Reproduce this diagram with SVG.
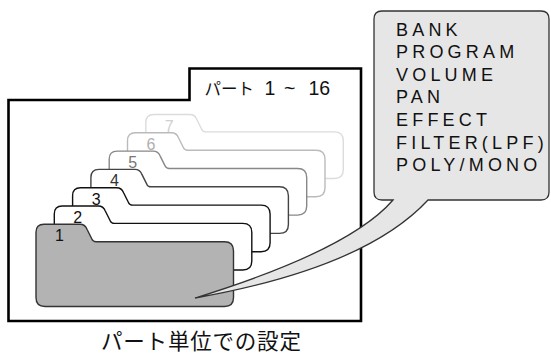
<svg xmlns="http://www.w3.org/2000/svg" xmlns:xlink="http://www.w3.org/1999/xlink" width="551" height="354" viewBox="0 0 551 354">
<style>
.frame{fill:#fff;stroke:#000;stroke-width:2.6}
.fold{fill:#fff;stroke-width:1.4}
.num{font-family:"Liberation Sans",Arial,sans-serif;font-size:16px;text-anchor:middle}
.lbl{font-family:"Liberation Sans","Noto Sans CJK JP",sans-serif;font-size:19.5px;fill:#111}
.jp{font-family:"Noto Sans CJK JP",sans-serif;font-size:16.5px}
.cap{font-family:"Noto Sans CJK JP",sans-serif;font-size:21.5px;fill:#111;letter-spacing:0.8px}
.bx{font-family:"Liberation Sans",Arial,sans-serif;font-size:18px;fill:#111;letter-spacing:4.2px}
.callout{fill:#e6e6e6;stroke:#333;stroke-width:1.3}
</style>
<defs>
<path id="fold" d="M0 55 V8 Q0 0 8 0 H44 Q49 0 51 5 L56 15 Q57 17.4 60 17.4 H188.5 Q197.5 17.4 197.5 26.4 V55 Q197.5 64 188.5 64 H9 Q0 64 0 55 Z"/>
</defs>
<g id="frame">
<path class="frame" d="M8.5 100 H189.5 V68.5 H361 V321 H8.5 Z"/>
<text class="lbl" y="94.5"><tspan class="jp" x="204.5">パート </tspan><tspan x="264.5">1 </tspan><tspan x="284">~ </tspan><tspan x="308.5">16</tspan></text>
</g>
<g id="part7">
<use xlink:href="#fold" class="fold" stroke="#dcdcdc" transform="translate(145.8 114.5)"/>
<text class="num" x="169.3" y="131.5" fill="#d0d0d0">7</text>
</g>
<g id="part6">
<use xlink:href="#fold" class="fold" stroke="#bbb" transform="translate(127.5 132.8)"/>
<text class="num" x="151" y="149.8" fill="#b0b0b0">6</text>
</g>
<g id="part5">
<use xlink:href="#fold" class="fold" stroke="#888" transform="translate(109.2 151.1)"/>
<text class="num" x="132.7" y="168.1" fill="#777">5</text>
</g>
<g id="part4">
<use xlink:href="#fold" class="fold" stroke="#444" transform="translate(90.9 169.4)"/>
<text class="num" x="114.4" y="186.4" fill="#333">4</text>
</g>
<g id="part3">
<use xlink:href="#fold" class="fold" stroke="#111" transform="translate(72.6 187.7)"/>
<text class="num" x="96.1" y="204.7" fill="#111">3</text>
</g>
<g id="part2">
<use xlink:href="#fold" class="fold" stroke="#111" transform="translate(54.3 206)"/>
<text class="num" x="77.8" y="223" fill="#111">2</text>
</g>
<g id="part1">
<path class="fold" style="fill:#b3b3b3" stroke="#333" transform="translate(36 224.3)" d="M0 73.2 V8 Q0 0 8 0 H44 Q49 0 51 5 L56 15 Q57 17.4 60 17.4 H188.5 Q197.5 17.4 197.5 26.4 V73.2 Q197.5 82.2 188.5 82.2 H9 Q0 82.2 0 73.2 Z"/>
<text class="num" x="59.5" y="241.3" fill="#111">1</text>
</g>
<g id="callout">
<path class="callout" d="M382 11 H541 Q549 11 549 19 V192 Q549 200 541 200 H428 Q365 268 195 298 Q350 250 393 200 H382 Q374 200 374 192 V19 Q374 11 382 11 Z"/>
<text class="bx" x="396" y="35.5">BANK</text>
<text class="bx" x="396" y="58.1">PROGRAM</text>
<text class="bx" x="396" y="80.7">VOLUME</text>
<text class="bx" x="396" y="103.3">PAN</text>
<text class="bx" x="396" y="125.9">EFFECT</text>
<text class="bx" x="396" y="148.5">FILTER(LPF)</text>
<text class="bx" x="396" y="171.1">POLY/MONO</text>
</g>
<g id="caption">
<text class="cap" x="101" y="348.5">パート単位での設定</text>
</g>
</svg>
